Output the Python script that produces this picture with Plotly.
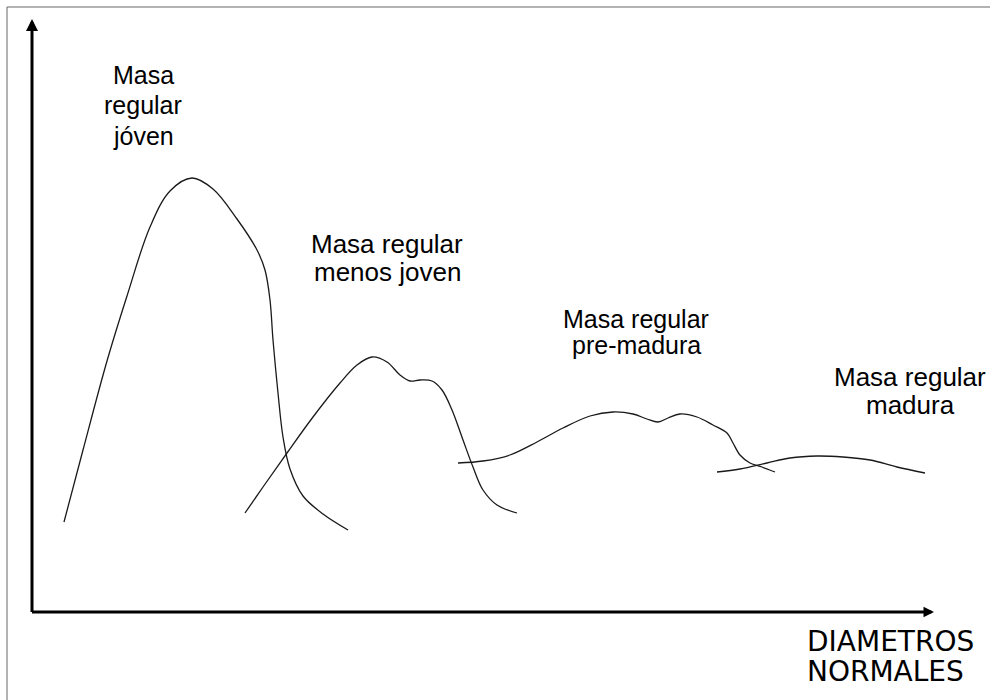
import plotly.graph_objects as go

# --- data (x: diameter units from origin, y: frequency units above x-axis) ---
joven_x = [32, 51, 75, 95, 118, 138, 160, 181, 205, 225, 233, 238, 241, 246, 251, 258, 271, 291, 316]
joven_y = [90, 162, 251, 316, 385, 421, 434, 423, 393, 362, 342, 312, 272, 219, 175, 143, 116, 98, 82]

menos_x = [213, 231, 255, 281, 308, 325, 340, 355, 368, 378, 388, 400, 410, 420, 431, 441, 451, 465, 485]
menos_y = [99, 125, 159, 195, 229, 247, 255, 250, 237, 231, 232, 231, 222, 202, 172, 145, 122, 107, 99]

pre_x = [426, 451, 478, 505, 531, 558, 581, 601, 615, 626, 636, 648, 665, 681, 695, 701, 708, 718, 730, 743]
pre_y = [149, 151, 157, 170, 184, 196, 200, 198, 193, 190, 194, 198, 195, 187, 179, 169, 157, 149, 145, 140]

madura_x = [685, 708, 735, 758, 785, 811, 838, 865, 893]
madura_y = [140, 143, 149, 154, 156, 155, 152, 145, 139]

series = [(joven_x, joven_y), (menos_x, menos_y), (pre_x, pre_y), (madura_x, madura_y)]

label_lines = [
    ["Masa", "regular", "jóven"],
    ["Masa regular", "menos joven"],
    ["Masa regular", "pre-madura"],
    ["Masa regular", "madura"],
]
axis_label_lines = ["DIAMETROS", "NORMALES"]

# --- layout positions (pixel-derived) ---
OX, OY = 32, 612  # pixel origin of axes


def dx(px):
    return px - OX


def dy(py):
    return OY - py


label_pos = [  # (center x px, list of line middle y px, font size)
    (143, [75, 105, 136], 25),
    (387, [244, 272], 26),
    (636, [319, 345], 25),
    (910, [377, 405], 26),
]

fig = go.Figure()
for xs, ys in series:
    fig.add_trace(go.Scatter(
        x=xs, y=ys, mode="lines",
        line=dict(color="#1a1a1a", width=1.3, shape="spline", smoothing=1.0),
        hoverinfo="skip", showlegend=False))

annotations = []
for lines, (cx, ys, fs) in zip(label_lines, label_pos):
    for t, py in zip(lines, ys):
        annotations.append(dict(
            x=dx(cx), y=dy(py), xref="x", yref="y", text=t, showarrow=False,
            xanchor="center", yanchor="middle",
            font=dict(family="Liberation Sans, Arial", size=fs, color="#000000")))

for t, py in zip(axis_label_lines, [641, 671]):
    annotations.append(dict(
        x=dx(805), y=dy(py), xref="x", yref="y", text=t, showarrow=False,
        xanchor="left", yanchor="middle",
        font=dict(family="DejaVu Sans", size=28, color="#000000")))

# axis arrows
annotations.append(dict(
    x=0, y=dy(19), xref="x", yref="y", ax=0, ay=-1.5, axref="x", ayref="y",
    text="", showarrow=True, arrowhead=2, arrowsize=0.8, arrowwidth=3,
    arrowcolor="#000000", standoff=0, startstandoff=0))
annotations.append(dict(
    x=dx(934), y=0, xref="x", yref="y", ax=-1.5, ay=0, axref="x", ayref="y",
    text="", showarrow=True, arrowhead=2, arrowsize=0.7, arrowwidth=3,
    arrowcolor="#000000", standoff=0, startstandoff=0))

fig.update_layout(
    width=990, height=700,
    margin=dict(l=0, r=0, t=0, b=0),
    paper_bgcolor="white", plot_bgcolor="white",
    xaxis=dict(range=[dx(0), dx(990)], visible=False, fixedrange=True),
    yaxis=dict(range=[dy(700), dy(0)], visible=False, fixedrange=True),
    annotations=annotations,
    shapes=[dict(type="rect", xref="paper", yref="paper",
                 x0=7 / 990, x1=1.05, y0=-0.05, y1=1 - 7 / 700,
                 line=dict(color="#666666", width=1))],
)

fig.write_html("out.html", config={"displayModeBar": False},
               post_script="document.body.style.margin='0';document.body.style.overflow='hidden';")
